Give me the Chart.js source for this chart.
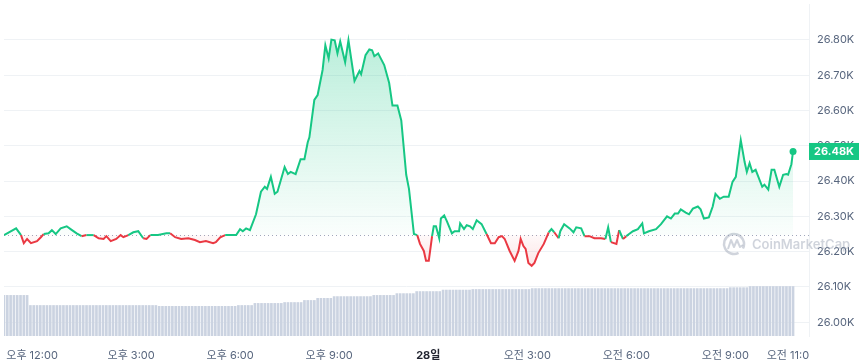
<!DOCTYPE html>
<html>
<head>
<meta charset="utf-8">
<script src="https://cdn.jsdelivr.net/npm/chart.js@4.4.0/dist/chart.umd.min.js"></script>
<style>
  html, body { margin: 0; padding: 0; background: #fff; }
  #wrap { width: 860px; height: 360px; position: relative; }
</style>
</head>
<body>
<div id="wrap"><canvas id="chart"></canvas></div>
<script>
// times are minutes since 00:00 on the 27th (28th = +1440)
const priceTimes = [
  669, 691, 700, 705, 711, 718, 729, 736, 741, 750, 756, 763, 772, 783, 790, 801, 810, 819, 832, 841,
  850, 855, 863, 873, 881, 886, 895, 904, 913, 922, 928, 935, 949, 964, 971, 980, 991, 1004, 1016, 1025,
  1036, 1049, 1054, 1062, 1071, 1091, 1098, 1103, 1109, 1116, 1127, 1136, 1143, 1147, 1154, 1161, 1166, 1179, 1185, 1190,
  1199, 1208, 1215, 1221, 1224, 1233, 1239, 1248, 1253, 1259, 1264, 1270, 1275, 1280, 1289, 1295, 1306, 1315, 1318, 1326,
  1333, 1338, 1342, 1349, 1360, 1369, 1375, 1384, 1391, 1400, 1405, 1414, 1420, 1425, 1432, 1436, 1441, 1447, 1450, 1454,
  1460, 1463, 1469, 1474, 1483, 1488, 1496, 1498, 1505, 1510, 1516, 1521, 1528, 1537, 1546, 1554, 1561, 1568, 1574, 1579,
  1588, 1597, 1604, 1608, 1613, 1617, 1622, 1628, 1633, 1640, 1650, 1659, 1664, 1669, 1677, 1680, 1687, 1697, 1704, 1709,
  1718, 1724, 1733, 1742, 1754, 1762, 1767, 1772, 1782, 1787, 1794, 1800, 1805, 1812, 1821, 1829, 1832, 1841, 1854, 1863,
  1874, 1881, 1888, 1894, 1899, 1908, 1914, 1921, 1930, 1935, 1941, 1950, 1957, 1962, 1970, 1977, 1986, 1993, 1999, 2008,
  2015, 2019, 2024, 2029, 2035, 2040, 2047, 2051, 2058, 2064, 2069, 2078, 2085, 2091, 2094, 2100, 2103
];
const prices = [
  26247, 26266, 26247, 26224, 26236, 26224, 26230, 26241, 26250, 26252, 26261, 26250, 26266, 26272, 26264, 26252, 26244, 26247, 26247, 26238,
  26236, 26244, 26230, 26236, 26247, 26241, 26247, 26255, 26258, 26238, 26236, 26247, 26247, 26252, 26252, 26241, 26236, 26238, 26233, 26227,
  26230, 26224, 26227, 26241, 26247, 26247, 26264, 26258, 26266, 26261, 26306, 26370, 26384, 26378, 26412, 26364, 26370, 26440, 26420, 26426,
  26420, 26462, 26462, 26510, 26524, 26630, 26644, 26715, 26785, 26748, 26801, 26799, 26762, 26796, 26737, 26799, 26684, 26712, 26703, 26757,
  26773, 26771, 26754, 26762, 26729, 26678, 26614, 26614, 26572, 26418, 26378, 26250, 26247, 26222, 26202, 26174, 26174, 26244, 26272, 26272,
  26238, 26294, 26303, 26286, 26252, 26258, 26258, 26280, 26264, 26275, 26272, 26264, 26289, 26278, 26250, 26224, 26224, 26241, 26244, 26236,
  26202, 26174, 26202, 26236, 26216, 26208, 26168, 26160, 26168, 26196, 26222, 26255, 26264, 26255, 26238, 26258, 26278, 26266, 26255, 26269,
  26266, 26244, 26244, 26238, 26238, 26236, 26269, 26227, 26222, 26261, 26236, 26244, 26250, 26258, 26264, 26280, 26252, 26258, 26264, 26278,
  26300, 26294, 26308, 26308, 26320, 26311, 26306, 26322, 26328, 26320, 26294, 26297, 26328, 26364, 26350, 26356, 26356, 26398, 26412, 26516,
  26454, 26426, 26451, 26426, 26432, 26412, 26384, 26390, 26376, 26432, 26432, 26384, 26418, 26420, 26418, 26448, 26484
];

// 24h volume (billions USD), one bar every 6 minutes from 11:09
const volStart = 669;
const volStep = 6;
const volumes = [
  13.7, 13.7, 13.7, 13.7, 13.7, 13.7, 13.7, 13.7, 10.3, 10.3, 10.3, 10.3, 10.3, 10.3, 10.3, 10.3, 10.3, 10.3, 10.3, 10.3,
  10.3, 10.3, 10.3, 10.3, 10.3, 10.3, 10.3, 10.3, 10.3, 10.3, 10.3, 10.3, 10.3, 10.3, 10.3, 10.3, 10.3, 10.3, 10.3, 10.3,
  10.3, 10.3, 10.3, 10.3, 10.3, 10.3, 10.3, 10.0, 10.0, 10.0, 10.0, 10.0, 10.0, 10.0, 10.0, 10.0, 10.0, 10.0, 10.0, 10.0,
  10.0, 10.0, 10.0, 10.0, 10.0, 10.0, 10.0, 10.0, 10.0, 10.0, 10.0, 10.3, 10.3, 10.3, 10.3, 10.3, 11.0, 11.0, 11.0, 11.0,
  11.0, 11.0, 11.0, 11.0, 11.0, 11.3, 11.3, 11.3, 11.3, 11.3, 11.3, 12.0, 12.0, 12.0, 12.0, 12.7, 12.7, 12.7, 12.7, 12.7,
  13.3, 13.3, 13.3, 13.3, 13.3, 13.3, 13.3, 13.3, 13.3, 13.3, 13.3, 13.3, 13.7, 13.7, 13.7, 13.7, 13.7, 13.7, 13.7, 14.3,
  14.3, 14.3, 14.3, 14.3, 14.3, 15.0, 15.0, 15.0, 15.0, 15.0, 15.0, 15.0, 15.0, 15.5, 15.5, 15.5, 15.5, 15.5, 15.5, 15.5,
  15.5, 15.5, 15.7, 15.7, 15.7, 15.7, 15.7, 15.7, 15.7, 15.7, 15.7, 15.7, 15.7, 15.7, 15.7, 15.7, 15.7, 15.7, 15.7, 15.7,
  16.0, 16.0, 16.0, 16.0, 16.0, 16.0, 16.0, 16.0, 16.0, 16.0, 16.0, 16.0, 16.0, 16.0, 16.0, 16.0, 16.0, 16.0, 16.0, 16.0,
  16.0, 16.0, 16.0, 16.0, 16.0, 16.0, 16.0, 16.0, 16.0, 16.0, 16.0, 16.0, 16.0, 16.0, 16.0, 16.0, 16.0, 16.0, 16.0, 16.0,
  16.0, 16.0, 16.0, 16.0, 16.0, 16.0, 16.0, 16.0, 16.0, 16.0, 16.0, 16.0, 16.0, 16.0, 16.0, 16.0, 16.0, 16.0, 16.0, 16.0,
  16.3, 16.3, 16.3, 16.3, 16.3, 16.3, 16.7, 16.7, 16.7, 16.7, 16.7, 16.7, 16.7, 16.7, 16.7, 16.7, 16.7, 16.7, 16.7, 16.7
];

const yTicks = [26000, 26100, 26200, 26300, 26400, 26500, 26600, 26700, 26800];
const xTickTimes = [720, 900, 1080, 1260, 1440, 1620, 1800, 1980, 2100];
const xTickLabels = ["오후 12:00", "오후 3:00", "오후 6:00", "오후 9:00", "28일", "오전 3:00", "오전 6:00", "오전 9:00", "오전 11:00"];

const COLORS = {
  up: "#16c784",
  down: "#ea3943",
  vol: "#cbd3e1",
  grid: "#eff2f5",
  tick: "#58667e",
  dayTick: "#222531",
  dots: "#a1a7bb",
  mark: "rgba(150,160,178,0.45)",
};

const base = prices[0];
const volTimes = volumes.map((_, i) => volStart + i * volStep);

Chart.defaults.font.family = "Inter, 'Noto Sans CJK KR', 'Noto Sans', sans-serif";
Chart.defaults.font.size = 11;

function areaFill(c) {
  const chart = c.chart;
  const { chartArea, scales } = chart;
  if (!chartArea || !scales.y) return "rgba(22,199,132,0.1)";
  const yb = scales.y.getPixelForValue(base);
  const t = Math.min(1, Math.max(0, (yb - chartArea.top) / (chartArea.bottom - chartArea.top)));
  const g = chart.ctx.createLinearGradient(0, chartArea.top, 0, chartArea.bottom);
  g.addColorStop(0, "rgba(22,199,132,0.34)");
  g.addColorStop(t, "rgba(22,199,132,0.02)");
  g.addColorStop(t, "rgba(234,57,67,0.03)");
  g.addColorStop(1, "rgba(234,57,67,0.36)");
  return g;
}

const baseLine = {
  id: "baseLine",
  beforeDatasetsDraw(chart) {
    const { ctx, chartArea, scales } = chart;
    const y = Math.round(scales.y.getPixelForValue(base)) + 0.5;
    ctx.save();
    ctx.strokeStyle = COLORS.dots;
    ctx.lineWidth = 1;
    ctx.setLineDash([1, 3]);
    ctx.beginPath();
    ctx.moveTo(chartArea.left, y);
    ctx.lineTo(chartArea.right, y);
    ctx.stroke();
    ctx.restore();
  },
};

const watermark = {
  id: "watermark",
  beforeDatasetsDraw(chart) {
    const { ctx, chartArea } = chart;
    const cx = chartArea.right - 75;
    const cy = chartArea.top + 240;
    ctx.save();
    ctx.strokeStyle = COLORS.mark;
    ctx.fillStyle = COLORS.mark;
    ctx.lineWidth = 2.5;
    ctx.lineJoin = "round";
    ctx.beginPath();
    ctx.arc(cx, cy, 10, 0.35 * Math.PI, 2.15 * Math.PI);
    ctx.stroke();
    ctx.lineWidth = 2;
    ctx.beginPath();
    ctx.moveTo(cx - 6, cy + 5);
    ctx.lineTo(cx - 3, cy - 4);
    ctx.lineTo(cx, cy + 3);
    ctx.lineTo(cx + 3, cy - 4);
    ctx.lineTo(cx + 6, cy + 3);
    ctx.lineTo(cx + 9, cy + 1);
    ctx.stroke();
    ctx.font = "600 13px Inter, sans-serif";
    ctx.textAlign = "left";
    ctx.textBaseline = "middle";
    ctx.fillText("CoinMarketCap", cx + 18, cy + 1);
    ctx.restore();
  },
};

const lastLabel = {
  id: "lastLabel",
  afterDraw(chart) {
    const { ctx, chartArea, scales } = chart;
    const v = prices[prices.length - 1];
    const y = scales.y.getPixelForValue(v);
    const w = 50, h = 17;
    ctx.save();
    ctx.fillStyle = COLORS.up;
    ctx.fillRect(chartArea.right, y - h / 2, w, h);
    ctx.fillStyle = "#fff";
    ctx.font = "bold 11px Inter, sans-serif";
    ctx.textAlign = "center";
    ctx.textBaseline = "middle";
    ctx.fillText((v / 1000).toFixed(2) + "K", chartArea.right + w / 2, y + 0.5);
    ctx.restore();
  },
};

// the last time label is cut at the plot's right edge
const clipXLabels = {
  id: "clipXLabels",
  beforeDraw(chart) {
    const xs = chart.scales.x;
    if (xs._clipped) return;
    const orig = xs.drawLabels;
    xs.drawLabels = function (area) {
      const ctx = chart.ctx;
      ctx.save();
      ctx.beginPath();
      ctx.rect(0, xs.top, chart.chartArea.right, xs.height + 10);
      ctx.clip();
      orig.call(this, area);
      ctx.restore();
    };
    xs._clipped = true;
  },
};

function noPad(s) {
  s.paddingTop = 0;
  s.paddingBottom = 0;
  s.paddingLeft = 0;
  s.paddingRight = 0;
}

new Chart(document.getElementById("chart"), {
  type: "line",
  data: {
    datasets: [
      {
        type: "line",
        label: "Price",
        data: priceTimes.map((t, i) => ({ x: t, y: prices[i] })),
        yAxisID: "y",
        borderColor: COLORS.up,
        borderWidth: 2,
        tension: 0,
        pointRadius: (c) => (c.dataIndex === prices.length - 1 ? 3.5 : 0),
        pointBackgroundColor: COLORS.up,
        pointBorderWidth: 0,
        segment: {
          borderColor: (c) => ((c.p0.parsed.y + c.p1.parsed.y) / 2 >= base ? COLORS.up : COLORS.down),
        },
        fill: { target: { value: base } },
        backgroundColor: areaFill,
        order: 0,
      },
      {
        type: "bar",
        label: "Volume",
        data: volTimes.map((t, i) => ({ x: t, y: volumes[i] })),
        yAxisID: "vol",
        backgroundColor: COLORS.vol,
        barThickness: 2,
        grouped: false,
        order: 1,
      },
    ],
  },
  options: {
    responsive: true,
    maintainAspectRatio: false,
    animation: false,
    layout: { padding: 0 },
    plugins: { legend: { display: false }, tooltip: { enabled: false } },
    scales: {
      x: {
        type: "linear",
        min: 669,
        max: 2132,
        offset: false,
        grid: { display: false, offset: false },
        border: { display: false },
        afterBuildTicks: (s) => { s.ticks = xTickTimes.map((v) => ({ value: v })); },
        afterFit: (s) => { s.height = 24; noPad(s); },
        ticks: {
          autoSkip: false,
          maxRotation: 0,
          padding: 5,
          color: (c) => (c.tick && c.tick.value === 1440 ? COLORS.dayTick : COLORS.tick),
          font: (c) => (c.tick && c.tick.value === 1440 ? { weight: "bold", size: 11 } : { size: 11 }),
          callback: (v, i) => xTickLabels[i],
        },
      },
      y: {
        position: "right",
        min: 25961,
        max: 26902,
        afterBuildTicks: (s) => { s.ticks = yTicks.map((v) => ({ value: v })); },
        afterFit: (s) => { s.width = 51; noPad(s); },
        grid: { color: COLORS.grid, drawTicks: false },
        border: { display: true, color: COLORS.grid },
        ticks: {
          padding: 8,
          color: COLORS.tick,
          callback: (v) => (v / 1000).toFixed(2) + "K",
        },
      },
      vol: { display: false, min: 0, max: 112 },
    },
  },
  plugins: [baseLine, watermark, lastLabel, clipXLabels],
});
</script>
</body>
</html>
